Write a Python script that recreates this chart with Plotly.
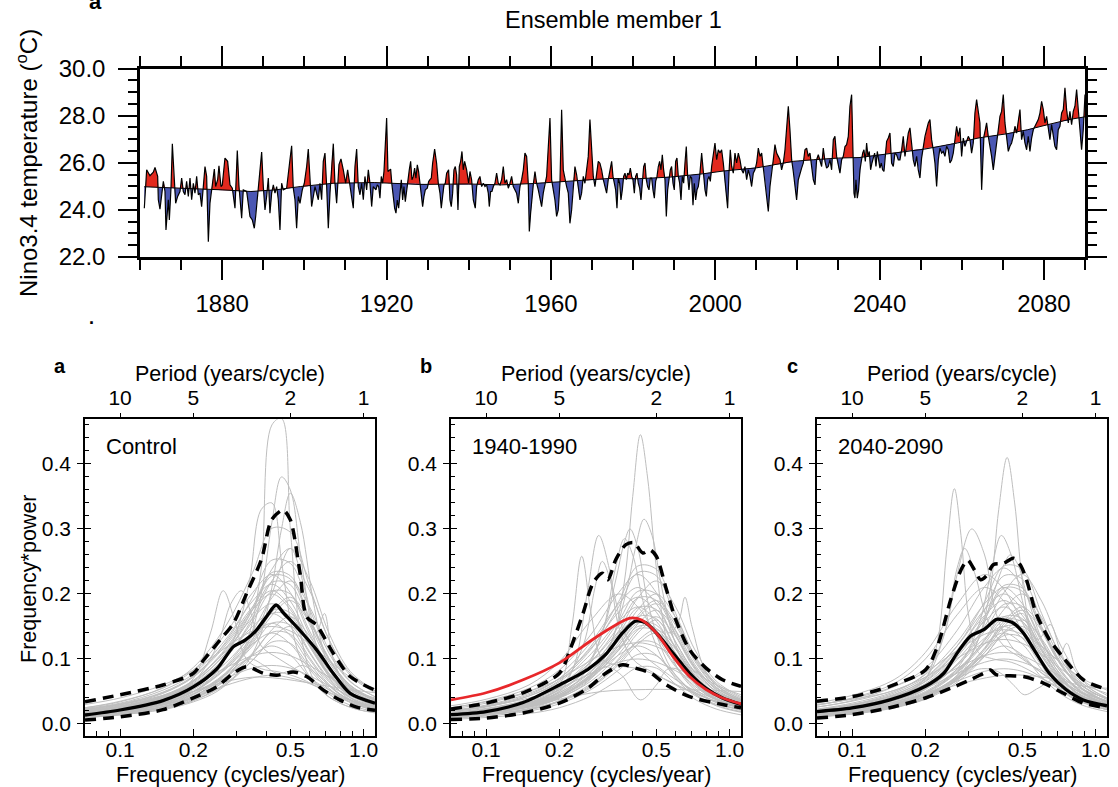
import numpy as np
import plotly.graph_objects as go

# ---------------- top panel: Nino3.4 temperature, ensemble member 1 ----------------
YEARS = [
 1861.05,1861.62,1862.43,1863.24,1863.65,1864.30,1864.46,1864.86,1865.68,1866.08,1866.32,1866.89,1867.14,1867.54,1867.87,
 1868.35,1868.68,1869.16,1869.73,1870.14,1870.54,1870.95,1871.35,1871.76,1872.17,1872.57,1872.98,1873.38,1873.79,1874.19,
 1874.60,1875.00,1875.82,1876.22,1876.63,1877.03,1877.60,1878.09,1878.41,1878.90,1879.22,1879.71,1880.03,1880.68,1881.33,
 1881.90,1882.47,1883.12,1883.68,1884.09,1884.74,1885.14,1885.96,1886.77,1887.34,1887.82,1888.15,1889.20,1889.61,1890.01,
 1890.42,1890.82,1891.23,1891.63,1892.04,1892.45,1892.85,1893.26,1893.66,1894.07,1894.47,1894.88,1895.69,1896.50,1896.91,
 1897.31,1897.72,1898.12,1898.53,1898.94,1899.50,1899.99,1900.56,1900.96,1901.37,1901.77,1902.59,1902.99,1903.40,1903.80,
 1904.21,1904.61,1905.02,1905.43,1905.83,1906.24,1906.64,1907.05,1907.45,1907.86,1908.43,1908.91,1909.48,1910.05,1910.54,
 1910.86,1911.51,1911.91,1912.32,1912.73,1913.13,1913.54,1913.94,1914.35,1914.75,1915.16,1915.57,1915.97,1916.38,1916.78,
 1917.43,1917.75,1918.08,1918.40,1918.73,1919.05,1919.38,1919.70,1920.03,1920.35,1920.68,1921.00,1921.32,1921.65,1921.97,
 1922.30,1922.62,1922.95,1923.27,1923.60,1923.92,1924.24,1924.57,1924.89,1925.22,1925.54,1925.87,1926.19,1926.52,1926.84,
 1927.16,1927.49,1927.81,1928.14,1928.46,1928.79,1929.11,1929.44,1929.92,1930.25,1930.57,1930.90,1931.22,1931.71,1932.19,
 1932.60,1933.01,1933.33,1933.65,1933.98,1934.30,1934.63,1935.11,1935.44,1935.76,1936.09,1936.41,1936.74,1937.06,1937.39,
 1937.71,1938.04,1938.36,1938.68,1939.01,1939.50,1939.98,1940.31,1940.71,1941.12,1941.60,1941.93,1942.33,1942.74,1943.15,
 1943.55,1943.96,1944.36,1944.77,1945.01,1945.34,1945.66,1945.99,1946.39,1946.80,1947.20,1947.61,1948.01,1948.42,1948.82,
 1949.23,1949.64,1950.04,1950.45,1950.85,1951.26,1951.66,1952.07,1952.47,1952.88,1953.29,1953.69,1954.10,1954.50,1954.75,
 1955.07,1955.40,1955.72,1956.13,1956.53,1956.94,1957.34,1957.75,1958.15,1958.56,1958.96,1959.78,1960.18,1960.59,1960.99,
 1961.40,1961.80,1962.21,1962.62,1963.02,1963.43,1963.83,1964.24,1964.64,1965.05,1965.46,1965.86,1966.27,1966.67,1967.08,
 1967.48,1967.89,1968.29,1968.70,1969.10,1969.51,1969.92,1970.32,1970.73,1971.13,1971.54,1971.94,1972.35,1972.76,1973.16,
 1973.57,1973.97,
 1974.79,1975.12,1975.44,1975.77,1976.09,1976.41,1976.74,1977.06,1977.39,1977.71,1978.04,1978.36,1978.69,1979.01,1979.34,
 1979.66,1979.98,1980.31,1980.63,1980.96,1981.28,1981.61,1981.93,1982.26,1982.58,1982.91,1983.23,1983.55,1983.88,1984.20,
 1984.53,1984.85,1985.18,1985.50,1985.83,1986.15,1986.47,1986.80,1987.12,1987.45,1987.77,1988.10,1988.42,1988.75,1989.07,
 1989.39,1989.72,1990.04,1990.37,1990.69,1991.02,1991.34,1991.67,1991.99,1992.32,1992.64,1992.96,1993.29,1993.61,1993.94,
 1994.26,1994.59,1994.91,1995.24,1995.56,1995.88,1996.21,1996.70,1997.10,1997.51,1997.84,1998.16,1998.48,1998.81,1999.13,
 1999.54,1999.94,2000.35,2000.75,2001.16,2001.56,2001.97,2002.37,2002.78,2003.02,2003.35,2003.67,2004.00,2004.40,2004.81,
 2005.21,2005.62,2006.02,2006.43,2006.84,2007.24,2007.65,2008.05,2008.46,2008.86,2009.27,2009.67,2010.08,2010.49,2010.89,
 2011.30,2011.70,2012.11,2012.51,2012.92,2013.33,2013.73,2014.14,2014.54,2014.95,2015.35,2015.76,2016.16,2016.57,2016.98,
 2017.38,2017.79,2018.19,2018.60,2019.00,2019.41,2019.81,2020.22,2020.62,2021.03,2021.44,2021.84,2022.25,2022.65,2023.06,
 2023.46,2023.87,2024.28,2024.68,2025.09,2025.49,2025.90,2026.30,2026.71,2027.11,2027.52,2027.93,2028.33,2028.74,2029.14,
 2029.55,2029.96,2030.36,2030.77,2031.17,2031.58,
 2031.98,2032.39,2032.79,2033.20,2033.44,2033.77,2034.01,2034.25,2034.58,2034.90,2035.23,2035.55,2035.88,2036.20,2036.53,
 2036.85,2037.17,2037.50,2037.82,2038.15,2038.47,2038.80,2039.12,2039.45,2039.77,2040.09,2040.42,2040.74,2041.07,2041.39,
 2041.72,2042.12,2042.53,2042.93,2043.34,2043.75,2044.15,2044.56,2044.96,2045.37,2045.77,2046.18,2046.58,2046.99,2047.40,
 2047.80,2048.21,2048.61,2049.02,2049.42,2049.83,2050.23,2050.64,2051.05,2051.45,2051.86,2052.26,2052.67,2053.07,2053.48,
 2053.89,2054.29,2054.70,2055.10,2055.51,2055.91,2056.32,2056.72,2057.13,2057.54,2057.94,2058.35,2058.75,2059.16,2059.56,
 2059.97,2060.38,2060.78,2061.19,2061.59,2062.00,2062.40,2062.81,2063.21,2063.62,2064.03,2064.43,2064.84,2065.08,2065.40,
 2065.73,2066.05,2066.46,2066.86,2067.27,2067.68,2068.08,2068.49,2068.89,2069.30,2069.70,2070.11,2070.52,2070.92,2071.33,
 2071.73,2072.14,2072.54,2072.95,2073.35,2073.76,2074.17,2074.57,2074.98,2075.38,2075.79,2076.19,2076.60,2077.01,2077.41,
 2077.82,2078.22,2078.63,2079.03,2079.44,2079.85,2080.25,2080.66,2081.06,2081.47,2081.87,2082.28,2082.68,2083.09,2083.49,
 2083.90,2084.31,2084.71,2085.12,2085.52,2085.93,2086.33,2086.74,2087.15,2087.55,2087.96,2088.36,2088.77,2089.17,2089.58,
 2090.00]

TEMPS = [
 24.07,25.70,25.45,25.60,25.80,25.42,24.43,24.03,25.21,24.78,23.15,24.43,23.57,24.92,26.81,
 24.99,24.28,24.57,24.78,25.35,24.78,24.64,25.21,24.57,25.35,24.43,25.13,24.71,25.42,24.64,
 24.71,24.14,25.84,25.42,22.65,24.28,25.13,25.73,24.99,25.28,25.87,24.99,25.06,26.20,26.06,
 25.06,24.92,24.07,26.52,24.99,23.65,24.85,24.78,23.72,23.57,23.22,23.72,25.70,26.45,24.99,
 24.00,24.57,25.35,23.86,24.71,25.06,24.71,24.99,24.43,23.15,25.13,24.85,24.92,26.13,26.72,
 24.92,24.43,23.22,24.57,24.28,24.85,25.13,25.84,26.58,25.21,24.14,24.99,24.64,24.43,25.13,
 24.43,26.06,26.41,24.99,23.22,24.71,25.99,26.81,25.13,24.28,25.92,26.16,25.70,25.13,25.70,
 25.35,24.57,24.07,25.84,26.58,24.99,24.64,25.13,24.43,25.42,24.85,25.70,25.13,24.14,24.99,
 24.85,25.06,24.99,24.50,25.42,25.13,25.63,26.98,27.90,25.63,25.70,25.73,25.06,24.42,24.07,
 23.86,24.42,24.07,24.71,25.28,24.42,24.99,24.35,24.85,25.28,25.70,26.06,25.28,25.42,25.77,
 25.35,25.91,25.63,25.06,24.64,24.14,24.57,24.85,24.92,25.20,25.28,25.35,25.98,26.58,25.98,
 25.13,24.71,24.07,24.57,25.06,25.13,25.56,25.70,24.42,24.14,24.71,25.70,25.84,25.49,24.00,
 25.84,26.06,26.48,25.70,26.06,25.70,25.13,25.63,25.28,24.42,24.07,24.99,25.28,25.42,24.99,
 25.13,24.99,25.06,24.71,24.14,24.78,24.78,24.99,25.13,25.56,25.13,25.06,25.28,25.84,25.13,
 25.28,24.92,25.13,25.42,24.99,24.85,24.71,24.28,24.99,25.28,25.70,26.41,26.27,25.13,23.08,
 23.86,24.71,25.06,25.63,25.13,24.85,24.42,24.14,24.71,25.13,25.42,27.90,25.28,24.85,24.42,
 23.72,24.00,25.13,28.25,25.70,25.28,24.99,24.71,23.43,24.00,25.13,25.84,25.49,24.85,24.42,
 24.71,25.42,25.13,25.70,26.27,27.83,26.27,25.42,24.99,25.56,26.06,25.98,25.70,25.28,24.99,
 24.71,25.28,
 26.06,25.42,25.13,24.85,24.07,25.35,25.13,24.42,24.85,25.42,25.56,25.28,25.56,25.49,25.77,
 25.42,25.28,24.71,25.42,25.56,25.13,24.92,24.42,24.99,25.84,25.99,25.28,24.99,24.85,25.35,
 25.35,24.85,24.50,25.21,25.42,25.84,26.06,25.70,26.34,25.70,25.28,23.72,24.85,25.28,25.70,
 25.84,25.13,24.85,26.06,26.20,25.42,25.13,24.42,25.42,25.13,25.99,26.69,25.42,24.85,25.42,
 25.35,24.20,25.13,24.42,24.85,24.99,25.42,26.41,25.56,24.85,24.57,25.28,25.42,25.21,25.84,
 26.27,26.84,26.13,26.55,26.41,26.55,25.99,25.13,24.42,24.07,25.56,26.55,25.84,25.56,26.41,
 25.99,26.41,26.13,25.70,25.56,25.84,25.28,25.70,25.42,24.99,25.56,25.70,25.99,26.62,26.27,
 26.41,25.84,25.28,24.71,23.93,24.99,25.70,26.13,26.77,26.41,26.27,26.13,25.70,25.99,26.55,
 27.40,28.40,27.40,26.13,25.63,24.99,24.42,25.28,25.56,25.77,25.99,26.55,26.62,26.27,26.41,
 25.84,25.28,25.06,26.13,26.34,26.06,25.84,26.62,26.06,25.77,25.84,26.13,25.70,26.98,27.12,
 26.27,25.84,25.56,26.13,26.27,26.69,
 26.77,27.12,28.40,28.89,27.40,24.71,24.50,25.28,24.50,24.85,25.70,26.12,26.41,26.55,26.06,
 26.84,26.27,26.48,25.70,25.99,26.27,26.41,25.84,26.48,26.12,25.77,25.99,25.70,25.63,26.41,
 26.91,27.05,27.26,25.99,25.84,26.41,26.34,26.12,26.12,26.55,27.12,26.27,26.70,27.26,27.48,
 26.70,26.12,25.84,26.27,25.70,25.35,26.20,26.70,27.12,27.40,27.69,27.83,26.98,26.55,25.99,
 24.99,26.12,26.62,26.41,26.48,26.27,26.70,26.55,25.99,26.12,26.41,26.98,27.55,27.12,27.48,
 26.27,27.05,26.70,26.91,27.12,26.98,26.41,26.84,28.11,28.68,28.11,27.69,24.85,25.84,27.12,
 27.40,27.69,27.12,26.77,26.27,25.70,26.27,26.98,27.40,27.97,28.18,28.89,27.69,27.05,26.48,
 26.70,26.84,27.12,27.55,27.26,27.83,28.26,26.98,27.33,26.84,26.55,27.12,26.48,27.05,27.40,
 27.55,27.69,27.83,28.11,28.61,28.26,27.69,27.97,27.40,26.98,27.62,27.12,26.70,26.55,27.40,
 27.55,28.11,28.26,29.18,28.26,27.69,28.18,27.62,28.18,28.40,29.11,28.11,27.40,26.55,27.40,
 28.90]

TREND_YEARS = [1861, 1871, 1880, 1887, 1893, 1899, 1907, 1917, 1928, 1940, 1948, 1956, 1965, 1974,
               1981, 1989, 1997, 2002, 2010, 2014, 2019, 2024, 2030, 2035, 2042, 2051, 2059, 2064,
               2071, 2076, 2081, 2086, 2090]
TREND_TEMPS = [24.98, 24.92, 24.85, 24.78, 24.85, 24.99, 25.13, 25.16, 25.08, 25.10, 25.06, 25.12,
               25.22, 25.33, 25.32, 25.39, 25.53, 25.65, 25.78, 25.90, 26.06, 26.13, 26.20, 26.22,
               26.38, 26.58, 26.84, 27.05, 27.23, 27.40, 27.62, 27.83, 27.95]

TOP_XTICKS = [1880, 1920, 1960, 2000, 2040, 2080]
TOP_XMINOR = list(range(1860, 2091, 10))
TOP_YTICKS = [22, 24, 26, 28, 30]

# ---------------- bottom panels: spectra ----------------
FREQ_TICKS = [0.1, 0.2, 0.5, 1.0]
FREQ_TICKTEXT = ["0.1", "0.2", "0.5", "1.0"]
PERIOD_TICKTEXT = ["10", "5", "2", "1"]
FREQ_MINOR = [0.08, 0.09, 0.3, 0.4, 0.6, 0.7, 0.8, 0.9]
POWER_TICKS = [0.0, 0.1, 0.2, 0.3, 0.4]
POWER_TICKTEXT = ["0.0", "0.1", "0.2", "0.3", "0.4"]
PANEL_NAMES = ["Control", "1940-1990", "2040-2090"]
PANEL_LETTERS = ["a", "b", "c"]

BROAD_F = [0.0718, 0.1, 0.15, 0.2, 0.27, 0.35, 0.42, 0.5, 0.6, 0.72, 0.88, 1.113]

GRAY_A = [
 [0.019,0.026,0.043,0.067,0.115,0.18,0.233,0.228,0.163,0.101,0.06,0.038],
 [0.025,0.035,0.055,0.083,0.138,0.202,0.23,0.202,0.138,0.087,0.055,0.037],
 [0.015,0.022,0.035,0.053,0.088,0.143,0.194,0.22,0.18,0.114,0.066,0.042],
 [0.017,0.023,0.038,0.059,0.101,0.158,0.204,0.2,0.143,0.088,0.053,0.034],
 [0.022,0.03,0.048,0.072,0.12,0.176,0.2,0.176,0.12,0.076,0.048,0.032],
 [0.013,0.019,0.03,0.046,0.076,0.124,0.167,0.19,0.156,0.099,0.057,0.036],
 [0.014,0.02,0.032,0.05,0.086,0.135,0.175,0.171,0.122,0.076,0.045,0.029],
 [0.019,0.026,0.041,0.061,0.102,0.15,0.17,0.15,0.102,0.065,0.041,0.027],
 [0.013,0.018,0.029,0.045,0.077,0.12,0.155,0.152,0.109,0.067,0.04,0.026],
 [0.011,0.015,0.024,0.036,0.06,0.098,0.132,0.15,0.123,0.078,0.045,0.029],
 [0.015,0.021,0.034,0.05,0.084,0.123,0.14,0.123,0.084,0.053,0.034,0.022],
 [0.01,0.014,0.023,0.036,0.062,0.098,0.126,0.124,0.088,0.055,0.033,0.021],
 [0.013,0.018,0.029,0.043,0.072,0.106,0.12,0.106,0.072,0.046,0.029,0.019],
 [0.022,0.03,0.044,0.061,0.086,0.105,0.11,0.105,0.09,0.072,0.053,0.04],
 [0.018,0.024,0.036,0.05,0.07,0.086,0.09,0.086,0.074,0.059,0.043,0.032],
 [0.015,0.02,0.03,0.041,0.059,0.071,0.075,0.071,0.062,0.049,0.036,0.027],
 [0.018,0.025,0.04,0.06,0.1,0.163,0.22,0.25,0.205,0.13,0.075,0.048],
 [0.024,0.032,0.052,0.077,0.129,0.189,0.215,0.189,0.129,0.082,0.052,0.034],
 [0.012,0.017,0.026,0.04,0.066,0.107,0.145,0.165,0.135,0.086,0.05,0.031],
 [0.019,0.026,0.042,0.066,0.113,0.176,0.228,0.223,0.16,0.099,0.059,0.038],
 [0.012,0.016,0.026,0.041,0.07,0.109,0.141,0.138,0.099,0.061,0.036,0.023],
 [0.02,0.028,0.044,0.067,0.111,0.163,0.185,0.163,0.111,0.07,0.044,0.03],
 [0.03,0.04,0.06,0.083,0.117,0.143,0.15,0.143,0.123,0.098,0.072,0.054],
 [0.019,0.027,0.043,0.065,0.108,0.176,0.238,0.27,0.221,0.14,0.081,0.051],
 [0.025,0.034,0.056,0.087,0.149,0.233,0.301,0.295,0.211,0.13,0.078,0.05],
 [0.018,0.025,0.041,0.063,0.108,0.169,0.218,0.214,0.153,0.095,0.056,0.036],
 [0.014,0.02,0.031,0.047,0.078,0.127,0.172,0.195,0.16,0.101,0.059,0.037],
 [0.023,0.031,0.049,0.074,0.123,0.18,0.205,0.18,0.123,0.078,0.049,0.033],
 [0.014,0.019,0.032,0.049,0.084,0.131,0.17,0.166,0.119,0.074,0.044,0.028],
 [0.017,0.023,0.037,0.056,0.093,0.136,0.155,0.136,0.093,0.059,0.037,0.025],
 [0.021,0.029,0.047,0.073,0.125,0.195,0.252,0.247,0.177,0.109,0.065,0.042],
]
SPECIAL_A = [
 ([0.0718,0.1,0.15,0.2,0.25,0.3,0.34,0.38,0.42,0.46,0.5,0.55,0.62,0.7,0.8,0.95,1.113],
  [0.012,0.016,0.025,0.038,0.058,0.09,0.14,0.24,0.46,0.47,0.3,0.14,0.07,0.045,0.032,0.022,0.017]),
 ([0.0718,0.1,0.15,0.2,0.25,0.3,0.34,0.38,0.42,0.46,0.5,0.55,0.62,0.7,0.8,0.95,1.113],
  [0.012,0.017,0.026,0.04,0.06,0.09,0.13,0.2,0.31,0.38,0.36,0.26,0.14,0.08,0.05,0.03,0.022]),
 ([0.0718,0.1,0.15,0.2,0.25,0.3,0.34,0.38,0.42,0.46,0.5,0.55,0.62,0.7,0.8,0.95,1.113],
  [0.01,0.014,0.022,0.034,0.05,0.075,0.1,0.14,0.21,0.3,0.355,0.31,0.19,0.1,0.055,0.033,0.024]),
 ([0.0718,0.1,0.15,0.2,0.25,0.3,0.34,0.38,0.42,0.46,0.5,0.55,0.62,0.7,0.8,0.95,1.113],
  [0.015,0.02,0.032,0.05,0.08,0.14,0.22,0.33,0.34,0.25,0.16,0.1,0.065,0.045,0.032,0.022,0.018]),
 ([0.0718,0.1,0.15,0.2,0.235,0.265,0.295,0.33,0.38,0.45,0.55,0.7,0.9,1.113],
  [0.016,0.022,0.036,0.07,0.14,0.205,0.16,0.1,0.085,0.08,0.07,0.05,0.032,0.02]),
 ([0.0718,0.1,0.15,0.2,0.25,0.285,0.315,0.345,0.38,0.45,0.55,0.7,0.9,1.113],
  [0.018,0.025,0.04,0.065,0.12,0.185,0.205,0.17,0.12,0.1,0.08,0.055,0.035,0.024]),
 ([0.0718,0.1,0.15,0.2,0.27,0.35,0.42,0.5,0.58,0.64,0.69,0.75,0.88,1.113],
  [0.012,0.017,0.027,0.042,0.075,0.13,0.2,0.27,0.2,0.14,0.17,0.1,0.05,0.03]),
 ([0.0718,0.1,0.15,0.2,0.27,0.35,0.45,0.6,0.8,1.113],
  [0.02,0.027,0.04,0.05,0.065,0.072,0.07,0.063,0.055,0.048]),
 ([0.0718,0.1,0.15,0.2,0.27,0.34,0.39,0.44,0.5,0.56,0.65,0.8,1.113],
  [0.012,0.016,0.027,0.042,0.075,0.1,0.09,0.078,0.082,0.09,0.075,0.045,0.025]),
]
MEAN_A_F = [0.0718,0.1,0.15,0.2,0.25,0.292,0.326,0.36,0.399,0.437,0.47,0.499,0.55,0.641,0.75,0.88,1.113]
MEAN_A = [0.0138,0.0215,0.036,0.057,0.085,0.119,0.129,0.143,0.165,0.183,0.17,0.16,0.143,0.114,0.078,0.047,0.032]
UPPER_A_F = [0.0718,0.1,0.15,0.2,0.22,0.257,0.292,0.331,0.381,0.419,0.467,0.5,0.548,0.583,0.641,0.75,0.88,1.113]
UPPER_A = [0.034,0.045,0.06,0.078,0.098,0.129,0.155,0.201,0.254,0.314,0.329,0.314,0.232,0.165,0.152,0.109,0.073,0.052]
LOWER_A_F = [0.0718,0.1,0.15,0.2,0.249,0.292,0.331,0.388,0.44,0.515,0.583,0.684,0.797,0.936,1.113]
LOWER_A = [0.006,0.011,0.022,0.04,0.057,0.078,0.088,0.078,0.075,0.08,0.073,0.052,0.037,0.026,0.021]

GRAY_B = [
 [0.019,0.026,0.043,0.067,0.115,0.18,0.233,0.228,0.163,0.101,0.06,0.038],
 [0.015,0.022,0.035,0.053,0.088,0.143,0.194,0.22,0.18,0.114,0.066,0.042],
 [0.023,0.032,0.05,0.076,0.126,0.185,0.21,0.185,0.126,0.08,0.05,0.034],
 [0.016,0.022,0.036,0.056,0.096,0.15,0.194,0.19,0.136,0.084,0.05,0.032],
 [0.013,0.019,0.03,0.046,0.076,0.124,0.167,0.19,0.156,0.099,0.057,0.036],
 [0.015,0.02,0.033,0.052,0.089,0.139,0.179,0.176,0.126,0.078,0.046,0.03],
 [0.02,0.027,0.043,0.065,0.108,0.158,0.18,0.158,0.108,0.068,0.043,0.029],
 [0.014,0.019,0.031,0.048,0.082,0.128,0.165,0.162,0.116,0.071,0.043,0.027],
 [0.012,0.017,0.026,0.04,0.066,0.107,0.145,0.165,0.135,0.086,0.05,0.031],
 [0.018,0.024,0.038,0.058,0.096,0.141,0.16,0.141,0.096,0.061,0.038,0.026],
 [0.012,0.017,0.027,0.042,0.072,0.113,0.146,0.143,0.102,0.063,0.038,0.024],
 [0.01,0.014,0.022,0.034,0.056,0.091,0.123,0.14,0.115,0.073,0.042,0.027],
 [0.01,0.014,0.023,0.036,0.062,0.098,0.126,0.124,0.088,0.055,0.033,0.021],
 [0.013,0.018,0.029,0.043,0.072,0.106,0.12,0.106,0.072,0.046,0.029,0.019],
 [0.009,0.012,0.02,0.031,0.053,0.083,0.107,0.105,0.075,0.046,0.028,0.018],
 [0.02,0.027,0.04,0.055,0.078,0.095,0.1,0.095,0.082,0.065,0.048,0.036],
 [0.007,0.01,0.016,0.025,0.043,0.068,0.087,0.086,0.061,0.038,0.023,0.014],
 [0.025,0.035,0.055,0.083,0.138,0.202,0.23,0.202,0.138,0.087,0.055,0.037],
 [0.014,0.02,0.032,0.048,0.08,0.13,0.176,0.2,0.164,0.104,0.06,0.038],
 [0.012,0.017,0.028,0.043,0.074,0.116,0.15,0.147,0.105,0.065,0.039,0.025],
 [0.012,0.018,0.028,0.042,0.07,0.114,0.154,0.175,0.144,0.091,0.053,0.033],
 [0.025,0.034,0.05,0.069,0.098,0.119,0.125,0.119,0.103,0.081,0.06,0.045],
 [0.017,0.023,0.038,0.059,0.101,0.158,0.204,0.2,0.143,0.088,0.053,0.034],
 [0.013,0.019,0.03,0.044,0.074,0.12,0.163,0.185,0.152,0.096,0.056,0.035],
 [0.021,0.029,0.047,0.07,0.117,0.172,0.195,0.172,0.117,0.074,0.047,0.031],
 [0.013,0.018,0.029,0.045,0.077,0.12,0.155,0.152,0.109,0.067,0.04,0.026],
 [0.01,0.015,0.023,0.035,0.058,0.094,0.128,0.145,0.119,0.075,0.044,0.028],
 [0.02,0.028,0.045,0.07,0.12,0.188,0.243,0.238,0.17,0.105,0.063,0.04],
 [0.028,0.038,0.06,0.096,0.16,0.2,0.18,0.136,0.09,0.058,0.038,0.026],
]
SPECIAL_B = [
 ([0.0718,0.1,0.15,0.2,0.27,0.33,0.37,0.4,0.43,0.46,0.5,0.56,0.65,0.8,1.113],
  [0.012,0.016,0.026,0.04,0.07,0.13,0.22,0.35,0.445,0.38,0.24,0.12,0.07,0.04,0.022]),
 ([0.0718,0.1,0.15,0.2,0.27,0.33,0.38,0.41,0.445,0.48,0.52,0.58,0.67,0.8,1.113],
  [0.012,0.017,0.027,0.042,0.075,0.13,0.21,0.27,0.315,0.29,0.22,0.14,0.08,0.045,0.025]),
 ([0.0718,0.1,0.15,0.2,0.25,0.3,0.34,0.37,0.39,0.42,0.46,0.52,0.6,0.75,1.113],
  [0.014,0.02,0.032,0.05,0.08,0.14,0.22,0.28,0.3,0.27,0.19,0.12,0.075,0.045,0.025]),
 ([0.0718,0.1,0.15,0.2,0.23,0.26,0.29,0.32,0.35,0.4,0.48,0.6,0.8,1.113],
  [0.013,0.018,0.03,0.05,0.09,0.2,0.29,0.24,0.15,0.1,0.08,0.06,0.04,0.025]),
 ([0.0718,0.1,0.15,0.2,0.25,0.3,0.34,0.37,0.4,0.44,0.5,0.6,0.75,1.113],
  [0.012,0.017,0.028,0.045,0.075,0.14,0.24,0.285,0.26,0.19,0.12,0.07,0.04,0.022]),
 ([0.0718,0.1,0.15,0.2,0.225,0.247,0.27,0.3,0.35,0.42,0.5,0.65,0.85,1.113],
  [0.013,0.018,0.03,0.06,0.15,0.258,0.17,0.1,0.09,0.085,0.075,0.055,0.037,0.024]),
 ([0.0718,0.1,0.15,0.2,0.25,0.28,0.3,0.33,0.37,0.43,0.5,0.65,0.85,1.113],
  [0.014,0.02,0.033,0.055,0.12,0.21,0.25,0.21,0.14,0.11,0.09,0.06,0.04,0.025]),
 ([0.0718,0.1,0.15,0.2,0.27,0.35,0.42,0.5,0.57,0.62,0.655,0.7,0.8,0.95,1.113],
  [0.01,0.014,0.022,0.035,0.06,0.1,0.14,0.16,0.14,0.16,0.195,0.15,0.08,0.05,0.035]),
 ([0.0718,0.1,0.15,0.2,0.26,0.31,0.36,0.43,0.5,0.56,0.65,0.8,1.113],
  [0.01,0.014,0.024,0.04,0.07,0.088,0.075,0.037,0.06,0.085,0.08,0.05,0.028]),
 ([0.0718,0.1,0.15,0.2,0.3,0.45,0.6,0.8,1.113],
  [0.01,0.015,0.026,0.038,0.05,0.053,0.053,0.052,0.05]),
]
MEAN_B_F = [0.0718,0.1,0.142,0.2,0.262,0.31,0.363,0.41,0.45,0.5,0.585,0.685,0.8,0.935,1.113]
MEAN_B = [0.0143,0.019,0.033,0.06,0.084,0.107,0.14,0.158,0.156,0.14,0.109,0.078,0.055,0.04,0.03]
UPPER_B_F = [0.0718,0.1,0.142,0.2,0.221,0.25,0.275,0.3,0.316,0.341,0.375,0.404,0.44,0.47,0.5,0.55,0.6,0.685,0.8,0.935,1.113]
UPPER_B = [0.023,0.032,0.048,0.078,0.114,0.17,0.217,0.232,0.222,0.253,0.276,0.279,0.263,0.268,0.258,0.207,0.161,0.114,0.086,0.068,0.058]
LOWER_B_F = [0.0718,0.1,0.142,0.2,0.262,0.31,0.363,0.41,0.476,0.55,0.685,0.935,1.113]
LOWER_B = [0.007,0.009,0.017,0.032,0.055,0.078,0.091,0.086,0.078,0.06,0.042,0.03,0.025]
RED_B_F = [0.0718,0.1,0.142,0.2,0.262,0.31,0.363,0.39,0.435,0.5,0.585,0.685,0.8,0.935,1.113]
RED_B = [0.037,0.048,0.068,0.094,0.125,0.143,0.158,0.163,0.16,0.14,0.104,0.073,0.053,0.04,0.031]

GRAY_C = [
 [0.02,0.028,0.045,0.07,0.12,0.188,0.243,0.238,0.17,0.105,0.063,0.04],
 [0.026,0.036,0.058,0.086,0.144,0.211,0.24,0.211,0.144,0.091,0.058,0.038],
 [0.016,0.023,0.037,0.055,0.092,0.15,0.202,0.23,0.189,0.12,0.069,0.044],
 [0.018,0.024,0.04,0.062,0.106,0.165,0.213,0.209,0.15,0.092,0.055,0.035],
 [0.023,0.032,0.05,0.076,0.126,0.185,0.21,0.185,0.126,0.08,0.05,0.034],
 [0.014,0.02,0.032,0.048,0.08,0.13,0.176,0.2,0.164,0.104,0.06,0.038],
 [0.015,0.021,0.034,0.053,0.091,0.143,0.184,0.181,0.129,0.08,0.048,0.03],
 [0.02,0.027,0.043,0.065,0.108,0.158,0.18,0.158,0.108,0.068,0.043,0.029],
 [0.014,0.019,0.031,0.048,0.082,0.128,0.165,0.162,0.116,0.071,0.043,0.027],
 [0.011,0.016,0.026,0.038,0.064,0.104,0.141,0.16,0.131,0.083,0.048,0.03],
 [0.017,0.023,0.036,0.054,0.09,0.132,0.15,0.132,0.09,0.057,0.036,0.024],
 [0.011,0.015,0.025,0.039,0.067,0.105,0.136,0.133,0.095,0.059,0.035,0.022],
 [0.026,0.035,0.052,0.072,0.101,0.124,0.13,0.124,0.107,0.085,0.062,0.047],
 [0.013,0.018,0.029,0.043,0.072,0.106,0.12,0.106,0.072,0.046,0.029,0.019],
 [0.022,0.03,0.044,0.061,0.086,0.105,0.11,0.105,0.09,0.072,0.053,0.04],
 [0.02,0.027,0.04,0.055,0.078,0.095,0.1,0.095,0.082,0.065,0.048,0.036],
 [0.017,0.023,0.034,0.047,0.066,0.081,0.085,0.081,0.07,0.055,0.041,0.031],
 [0.022,0.03,0.048,0.072,0.12,0.176,0.2,0.176,0.12,0.076,0.048,0.032],
 [0.012,0.018,0.028,0.042,0.07,0.114,0.154,0.175,0.144,0.091,0.053,0.033],
 [0.012,0.017,0.028,0.043,0.074,0.116,0.15,0.147,0.105,0.065,0.039,0.025],
 [0.018,0.025,0.04,0.059,0.099,0.145,0.165,0.145,0.099,0.063,0.04,0.026],
 [0.029,0.039,0.058,0.08,0.113,0.138,0.145,0.138,0.119,0.094,0.07,0.052],
 [0.017,0.024,0.039,0.06,0.103,0.161,0.209,0.204,0.146,0.09,0.054,0.034],
 [0.021,0.029,0.046,0.068,0.114,0.167,0.19,0.167,0.114,0.072,0.046,0.03],
 [0.013,0.018,0.029,0.043,0.072,0.117,0.158,0.18,0.148,0.094,0.054,0.034],
 [0.013,0.018,0.03,0.046,0.079,0.124,0.16,0.157,0.112,0.069,0.041,0.026],
 [0.015,0.021,0.034,0.05,0.084,0.123,0.14,0.123,0.084,0.053,0.034,0.022],
 [0.019,0.026,0.042,0.066,0.113,0.176,0.228,0.223,0.16,0.099,0.059,0.038],
 [0.029,0.04,0.063,0.1,0.168,0.21,0.189,0.143,0.095,0.061,0.04,0.027],
 [0.032,0.044,0.069,0.11,0.184,0.23,0.207,0.156,0.104,0.067,0.044,0.03],
]
SPECIAL_C = [
 ([0.0718,0.1,0.15,0.2,0.225,0.245,0.263,0.28,0.3,0.33,0.38,0.45,0.55,0.7,0.9,1.113],
  [0.018,0.025,0.04,0.07,0.13,0.27,0.362,0.29,0.17,0.11,0.1,0.095,0.08,0.055,0.035,0.025]),
 ([0.0718,0.1,0.15,0.2,0.27,0.33,0.37,0.4,0.433,0.465,0.5,0.56,0.65,0.8,1.113],
  [0.012,0.016,0.026,0.04,0.07,0.13,0.21,0.33,0.41,0.34,0.22,0.12,0.07,0.04,0.022]),
 ([0.0718,0.1,0.15,0.2,0.24,0.27,0.31,0.35,0.39,0.45,0.55,0.7,0.9,1.113],
  [0.03,0.038,0.052,0.078,0.14,0.23,0.3,0.26,0.17,0.12,0.09,0.06,0.04,0.028]),
 ([0.0718,0.1,0.15,0.2,0.24,0.27,0.29,0.32,0.36,0.42,0.5,0.65,0.85,1.113],
  [0.02,0.027,0.043,0.07,0.14,0.24,0.27,0.23,0.16,0.12,0.1,0.07,0.045,0.03]),
 ([0.0718,0.1,0.15,0.2,0.27,0.33,0.37,0.41,0.45,0.5,0.56,0.65,0.8,1.113],
  [0.013,0.018,0.03,0.048,0.085,0.15,0.23,0.29,0.26,0.19,0.12,0.075,0.045,0.026]),
 ([0.0718,0.1,0.15,0.2,0.27,0.33,0.38,0.42,0.446,0.48,0.52,0.6,0.7,0.85,1.113],
  [0.012,0.017,0.027,0.043,0.075,0.13,0.2,0.245,0.26,0.245,0.2,0.13,0.08,0.045,0.026]),
 ([0.0718,0.1,0.15,0.2,0.27,0.35,0.42,0.5,0.58,0.65,0.72,0.85,1.113],
  [0.012,0.016,0.026,0.04,0.068,0.11,0.15,0.17,0.13,0.153,0.11,0.06,0.035]),
 ([0.0718,0.1,0.15,0.2,0.27,0.35,0.42,0.5,0.6,0.7,0.76,0.83,0.95,1.113],
  [0.012,0.016,0.026,0.04,0.07,0.11,0.14,0.15,0.12,0.1,0.124,0.085,0.055,0.04]),
 ([0.0718,0.1,0.15,0.2,0.27,0.34,0.4,0.46,0.51,0.58,0.68,0.85,1.113],
  [0.012,0.017,0.028,0.045,0.07,0.085,0.08,0.06,0.045,0.055,0.068,0.05,0.03]),
 ([0.0718,0.1,0.15,0.2,0.3,0.42,0.55,0.7,0.9,1.113],
  [0.015,0.02,0.032,0.045,0.065,0.075,0.074,0.068,0.058,0.055]),
]
MEAN_C_F = [0.0718,0.1,0.143,0.2,0.238,0.27,0.306,0.347,0.392,0.418,0.46,0.505,0.57,0.645,0.755,0.89,1.113]
MEAN_C = [0.019,0.0246,0.037,0.058,0.078,0.109,0.135,0.145,0.161,0.16,0.155,0.14,0.109,0.078,0.053,0.037,0.028]
UPPER_C_F = [0.0718,0.1,0.143,0.2,0.224,0.254,0.28,0.298,0.318,0.337,0.358,0.38,0.418,0.46,0.49,0.52,0.57,0.645,0.73,0.89,1.113]
UPPER_C = [0.035,0.042,0.058,0.083,0.119,0.191,0.237,0.252,0.237,0.222,0.229,0.245,0.247,0.255,0.245,0.222,0.17,0.13,0.104,0.068,0.053]
LOWER_C_F = [0.0718,0.1,0.143,0.2,0.254,0.306,0.347,0.37,0.39,0.445,0.505,0.61,0.73,0.89,1.113]
LOWER_C = [0.009,0.0143,0.025,0.04,0.055,0.068,0.078,0.083,0.076,0.074,0.073,0.063,0.048,0.032,0.025]

# ---------------- styling constants ----------------
W, H = 1118, 787
FONT = "Liberation Sans, Arial, Helvetica, sans-serif"
RED = "#E2291E"
BLUE = "#4B57B3"
GRAY = "#BEBEBE"

def px_x(p):
    return p / W

def px_y(p):
    return 1 - p / H

fig = go.Figure()

# ---------------- top panel traces ----------------
yrs = np.array(YEARS, dtype=float)
tmp = np.array(TEMPS, dtype=float)
base = np.interp(yrs, TREND_YEARS, TREND_TEMPS)
xs, ts, bs = [yrs[0]], [tmp[0]], [base[0]]
for i in range(1, len(yrs)):
    d0 = tmp[i - 1] - base[i - 1]
    d1 = tmp[i] - base[i]
    if d0 * d1 < 0:
        fr = d0 / (d0 - d1)
        xc = yrs[i - 1] + fr * (yrs[i] - yrs[i - 1])
        bc = base[i - 1] + fr * (base[i] - base[i - 1])
        xs.append(xc); ts.append(bc); bs.append(bc)
    xs.append(yrs[i]); ts.append(tmp[i]); bs.append(base[i])
xs = np.array(xs); ts = np.array(ts); bs = np.array(bs)
upper = np.maximum(ts, bs)
lower = np.minimum(ts, bs)

noline = dict(width=0, color="rgba(0,0,0,0)")
fig.add_trace(go.Scatter(x=xs, y=bs, mode="lines", line=noline, hoverinfo="skip", xaxis="x", yaxis="y"))
fig.add_trace(go.Scatter(x=xs, y=upper, mode="lines", line=noline, fill="tonexty", fillcolor=RED,
                         hoverinfo="skip", xaxis="x", yaxis="y"))
fig.add_trace(go.Scatter(x=xs, y=bs, mode="lines", line=noline, hoverinfo="skip", xaxis="x", yaxis="y"))
fig.add_trace(go.Scatter(x=xs, y=lower, mode="lines", line=noline, fill="tonexty", fillcolor=BLUE,
                         hoverinfo="skip", xaxis="x", yaxis="y"))
fig.add_trace(go.Scatter(x=TREND_YEARS, y=TREND_TEMPS, mode="lines", line=dict(color="black", width=1),
                         hoverinfo="skip", xaxis="x", yaxis="y"))
fig.add_trace(go.Scatter(x=YEARS, y=TEMPS, mode="lines", line=dict(color="black", width=1.2),
                         hoverinfo="skip", xaxis="x", yaxis="y"))

# ---------------- bottom panel traces ----------------
PANELS = [
    dict(k=2, left=85, right=375, gray=GRAY_A, special=SPECIAL_A, mean=(MEAN_A_F, MEAN_A),
         up=(UPPER_A_F, UPPER_A), lo=(LOWER_A_F, LOWER_A), red=None),
    dict(k=4, left=451, right=741, gray=GRAY_B, special=SPECIAL_B, mean=(MEAN_B_F, MEAN_B),
         up=(UPPER_B_F, UPPER_B), lo=(LOWER_B_F, LOWER_B), red=(RED_B_F, RED_B)),
    dict(k=6, left=817, right=1107, gray=GRAY_C, special=SPECIAL_C, mean=(MEAN_C_F, MEAN_C),
         up=(UPPER_C_F, UPPER_C), lo=(LOWER_C_F, LOWER_C), red=None),
]
BOT_TOP, BOT_BOTTOM = 419.3, 736.0
XR = [np.log10(0.0718), np.log10(1.113)]
YR = [-0.0185, 0.4687]

layout_axes = {}
for p in PANELS:
    k = p["k"]
    xb, yb, xt, yt = f"x{k}", f"y{k}", f"x{k+1}", f"y{k+1}"
    for row in p["gray"]:
        fig.add_trace(go.Scatter(x=BROAD_F, y=row, mode="lines",
                                 line=dict(color=GRAY, width=1, shape="spline", smoothing=1.0),
                                 hoverinfo="skip", xaxis=xb, yaxis=yb))
    for fx, fy in p["special"]:
        fig.add_trace(go.Scatter(x=fx, y=fy, mode="lines",
                                 line=dict(color=GRAY, width=1, shape="spline", smoothing=1.0),
                                 hoverinfo="skip", xaxis=xb, yaxis=yb))
    for (fx, fy) in (p["up"], p["lo"]):
        fig.add_trace(go.Scatter(x=fx, y=fy, mode="lines",
                                 line=dict(color="black", width=3.5, dash="11px,7px", shape="spline", smoothing=0.8),
                                 hoverinfo="skip", xaxis=xb, yaxis=yb))
    fig.add_trace(go.Scatter(x=p["mean"][0], y=p["mean"][1], mode="lines",
                             line=dict(color="black", width=3.3, shape="spline", smoothing=0.8),
                             hoverinfo="skip", xaxis=xb, yaxis=yb))
    if p["red"] is not None:
        fig.add_trace(go.Scatter(x=p["red"][0], y=p["red"][1], mode="lines",
                                 line=dict(color="#E8272A", width=2.8, shape="spline", smoothing=0.8),
                                 hoverinfo="skip", xaxis=xb, yaxis=yb))
    # invisible trace to activate the overlay axes (period axis on top, inner y ticks)
    fig.add_trace(go.Scatter(x=[0.3], y=[0.2], mode="markers", marker=dict(opacity=0, size=1),
                             hoverinfo="skip", xaxis=xt, yaxis=yt))

    dom_x = [px_x(p["left"]), px_x(p["right"])]
    dom_y = [px_y(BOT_BOTTOM), px_y(BOT_TOP)]
    layout_axes[f"xaxis{k}"] = dict(
        domain=dom_x, anchor=yb, type="log", range=XR, automargin=False,
        tickmode="array", tickvals=FREQ_TICKS, ticktext=FREQ_TICKTEXT,
        ticks="inside", ticklen=7, tickwidth=1.3, tickcolor="black",
        minor=dict(tickmode="array", tickvals=FREQ_MINOR, ticks="inside", ticklen=5, tickwidth=1.2,
                   tickcolor="black", showgrid=False),
        showline=True, linecolor="black", linewidth=1.6, mirror=True,
        showgrid=False, zeroline=False, ticklabelstandoff=-6,
        tickfont=dict(size=21, color="black", family=FONT))
    layout_axes[f"xaxis{k+1}"] = dict(
        overlaying=xb, anchor=yb, side="top", type="log", range=XR, automargin=False,
        tickmode="array", tickvals=FREQ_TICKS, ticktext=PERIOD_TICKTEXT,
        ticks="outside", ticklen=5, tickwidth=1.3, tickcolor="black",
        showline=False, showgrid=False, zeroline=False, ticklabelstandoff=0,
        tickfont=dict(size=21, color="black", family=FONT))
    layout_axes[f"yaxis{k}"] = dict(
        domain=dom_y, anchor=xb, range=YR, automargin=False,
        tickmode="array", tickvals=POWER_TICKS, ticktext=POWER_TICKTEXT,
        ticks="outside", ticklen=6, tickwidth=1.3, tickcolor="black",
        minor=dict(dtick=0.02, tick0=0, ticks="inside", ticklen=4.5, tickwidth=1.1,
                   tickcolor="black", showgrid=False),
        showline=True, linecolor="black", linewidth=1.6, mirror=True,
        showgrid=False, zeroline=False, ticklabelstandoff=2,
        tickfont=dict(size=21, color="black", family=FONT))
    layout_axes[f"yaxis{k+1}"] = dict(
        overlaying=yb, anchor=xb, side="left", range=YR, automargin=False,
        tickmode="array", tickvals=POWER_TICKS, ticks="inside", ticklen=6, tickwidth=1.3,
        tickcolor="black", showticklabels=False, showline=False, showgrid=False, zeroline=False)

# ---------------- layout ----------------
TOP_LEFT, TOP_RIGHT, TOP_TOP, TOP_BOTTOM = 140, 1085, 68.5, 257.0
layout_axes["xaxis"] = dict(
    domain=[px_x(TOP_LEFT), px_x(TOP_RIGHT)], anchor="y", range=[1860, 2090], automargin=False,
    tickmode="array", tickvals=TOP_XTICKS, ticks="outside", ticklen=20, tickwidth=2.2, tickcolor="black",
    minor=dict(tickmode="array", tickvals=TOP_XMINOR, ticks="outside", ticklen=10, tickwidth=1.5,
               tickcolor="black", showgrid=False),
    showline=True, linecolor="black", linewidth=2.5, mirror="ticks",
    showgrid=False, zeroline=False, ticklabelstandoff=3,
    tickfont=dict(size=24, color="black", family=FONT))
layout_axes["yaxis"] = dict(
    domain=[px_y(TOP_BOTTOM), px_y(TOP_TOP)], anchor="x", range=[22, 30], automargin=False,
    tickmode="array", tickvals=TOP_YTICKS, tickformat=".1f",
    ticks="outside", ticklen=19, tickwidth=2.2, tickcolor="black",
    minor=dict(dtick=0.5, tick0=22, ticks="outside", ticklen=9, tickwidth=1.5,
               tickcolor="black", showgrid=False),
    showline=True, linecolor="black", linewidth=2.5, mirror="ticks",
    showgrid=False, zeroline=False, ticklabelstandoff=8,
    tickfont=dict(size=24, color="black", family=FONT))

annotations = []

def ann(text, x, y, size, angle=0, xanchor="center", yanchor="middle"):
    annotations.append(dict(text=text, x=px_x(x), y=px_y(y), xref="paper", yref="paper",
                            showarrow=False, textangle=angle, xanchor=xanchor, yanchor=yanchor,
                            font=dict(size=size, color="black", family=FONT)))

ann("Ensemble member 1", 613, 20, 23.5)
ann("Nino3.4 temperature (<sup>o</sup>C)", 27, 163, 24, angle=-90)
ann("<b>a</b>", 96, 1, 22)
ann("<b>.</b>", 91, 318, 18)

for p, letter, name in zip(PANELS, PANEL_LETTERS, PANEL_NAMES):
    cx = (p["left"] + p["right"]) / 2
    ann("Period (years/cycle)", cx, 374, 21.5)
    ann("Frequency (cycles/year)", cx, 775, 21.5)
    ann(f"<b>{letter}</b>", p["left"] - 25, 366, 20)
    ann(name, p["left"] + 19, 447, 22, xanchor="left")
ann("Frequency*power", 29, 579, 21.5, angle=-90)

fig.update_layout(
    template="none",
    width=W, height=H, margin=dict(l=0, r=0, t=0, b=0, pad=0),
    paper_bgcolor="white", plot_bgcolor="white", showlegend=False, hovermode=False,
    font=dict(family=FONT, color="black"),
    annotations=annotations, **layout_axes)

# the page body has a default 8px margin; remove it so the figure sits at the window origin
fig.write_html("out.html", config={"displayModeBar": False},
               post_script="document.body.style.margin='0px';document.body.style.padding='0px';")
